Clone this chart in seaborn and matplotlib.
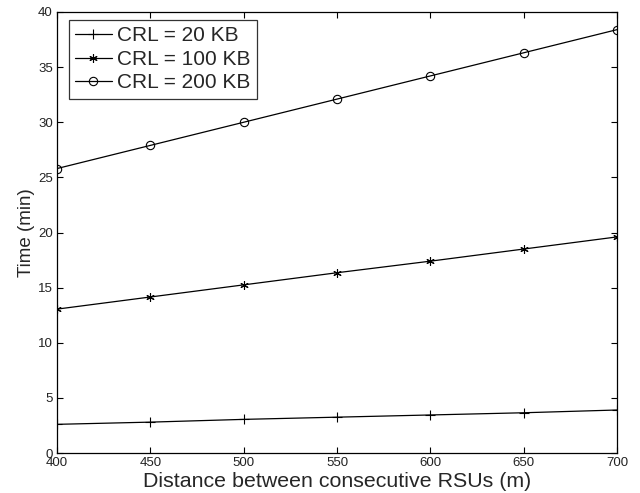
import matplotlib
matplotlib.use("Agg")
import matplotlib.pyplot as plt
import seaborn as sns
import pandas as pd

distance = [400, 450, 500, 550, 600, 650, 700]
crl_20 = [2.6, 2.8, 3.05, 3.25, 3.45, 3.65, 3.9]
crl_100 = [13.05, 14.15, 15.25, 16.35, 17.4, 18.5, 19.6]
crl_200 = [25.8, 27.9, 30.0, 32.1, 34.2, 36.3, 38.4]
series_names = ["CRL = 20 KB", "CRL = 100 KB", "CRL = 200 KB"]
x_ticks = [400, 450, 500, 550, 600, 650, 700]
y_ticks = [0, 5, 10, 15, 20, 25, 30, 35, 40]

sns.set_theme(style="white")
plt.rcParams['font.family'] = ['Liberation Sans', 'DejaVu Sans']

fig = plt.figure(figsize=(6.4, 4.93), dpi=100)
ax = fig.add_axes([57/640, 40/493, 560/640, 441/493])

markers = ['+', (6, 2, 0), 'o']
sizes = [7, 6, 6]
for name, vals, mk, ms in zip(series_names, [crl_20, crl_100, crl_200], markers, sizes):
    df = pd.DataFrame({"Distance": distance, "Time": vals})
    sns.lineplot(data=df, x="Distance", y="Time", color='black',
                 linewidth=0.9, marker=mk, markersize=ms, markerfacecolor='none',
                 markeredgecolor='black', markeredgewidth=0.8, ax=ax, label=name)

ax.set_xlim(400, 700)
ax.set_ylim(0, 40)
ax.set_xticks(x_ticks)
ax.set_yticks(y_ticks)
ax.tick_params(direction='in', length=4, width=0.8, top=True, right=True,
               labelsize=9.5, labelcolor='#222222', color='black', pad=3,
               bottom=True, left=True)
for s in ax.spines.values():
    s.set_color('black')
    s.set_linewidth(0.9)
ax.set_xlabel("Distance between consecutive RSUs (m)", fontsize=15.4, labelpad=2)
ax.set_ylabel("Time (min)", fontsize=13.5, labelpad=2)

leg = ax.legend(loc='upper left', bbox_to_anchor=(12/560, 1 - 8/441), fontsize=15,
                frameon=True, fancybox=False, edgecolor='black',
                handlelength=1.75, handletextpad=0.25, borderpad=0.3,
                labelspacing=0.22, borderaxespad=0.0)
leg.get_frame().set_linewidth(0.9)

fig.savefig("out.png", dpi=100)
